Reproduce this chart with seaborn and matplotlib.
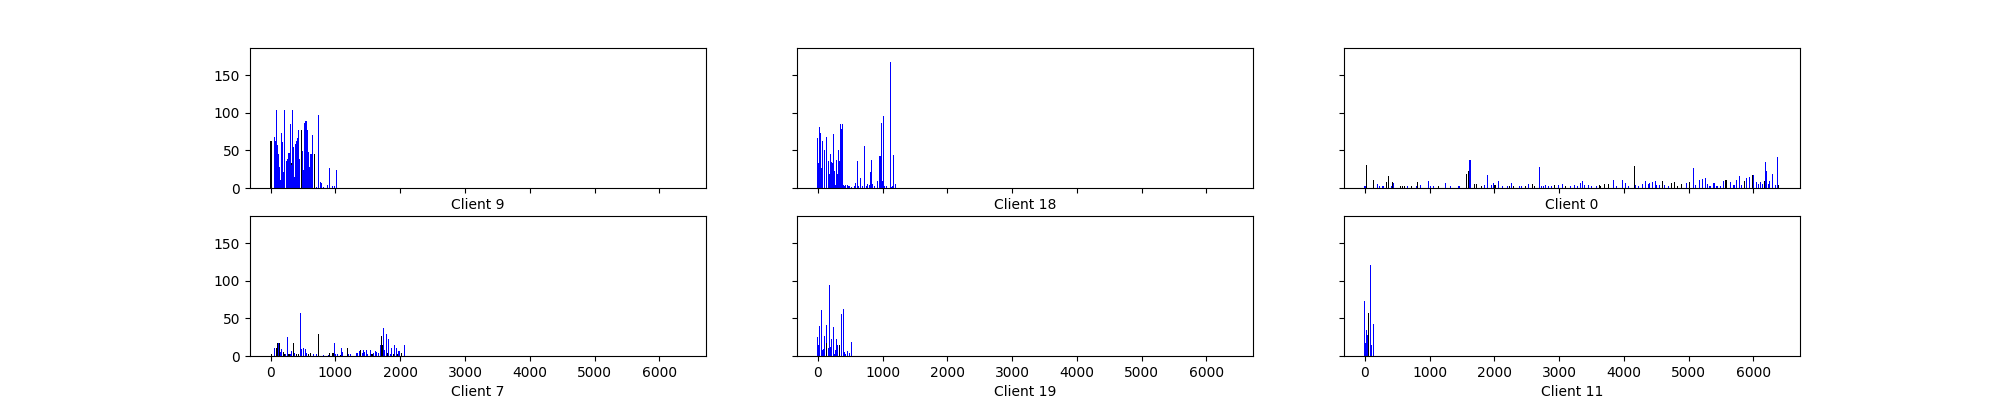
import numpy as np
import pandas as pd
import matplotlib
matplotlib.use("Agg")
import matplotlib.pyplot as plt
import seaborn as sns

clients = ["Client 9", "Client 18", "Client 0", "Client 7", "Client 19", "Client 11"]

# Client 9
c9_x = [0, 19, 51, 77, 96, 109, 122, 141, 154, 173, 186, 199, 218, 237, 256, 276, 288, 301,
        314, 327, 340, 353, 365, 378, 397, 410, 423, 449, 468, 487, 500, 519, 532, 545, 558,
        570, 583, 596, 609, 622, 647, 679, 712, 744, 763, 782, 820, 878, 904, 949, 987, 1019]
c9_h = [63, 63, 68, 62, 103, 57, 45, 28, 11, 73, 61, 21, 104, 36, 39, 46, 47, 85,
        33, 31, 104, 55, 15, 58, 62, 66, 77, 39, 77, 49, 24, 86, 88, 89, 24,
        77, 48, 28, 28, 45, 70, 45, 1, 97, 8, 6, 1, 4, 27, 3, 2, 24]
c9_c = ["k", "k", "b", "b", "b", "b", "b", "b", "b", "b", "b", "b", "b", "b", "b", "b", "b", "b",
        "k", "b", "b", "b", "b", "b", "b", "b", "b", "b", "k", "b", "b", "b", "b", "b", "b",
        "b", "b", "b", "b", "b", "b", "k", "b", "b", "b", "b", "b", "b", "b", "b", "b", "b"]

# Client 18
c18_x = [0, 13, 32, 45, 65, 77, 97, 110, 129, 142, 161, 174, 194, 206, 226, 239, 258, 271,
         290, 303, 323, 335, 355, 368, 387, 400, 413, 432, 452, 471, 497, 522, 561, 581, 613,
         632, 664, 697, 722, 748, 768, 800, 819, 832, 851, 877, 929, 948, 968, 980, 993, 1019,
         1032, 1064, 1122, 1142, 1161, 1174, 1193]
c18_h = [66, 33, 81, 73, 27, 63, 51, 13, 18, 68, 36, 19, 45, 34, 33, 72, 22, 4,
         37, 18, 50, 36, 85, 78, 85, 4, 3, 4, 4, 2, 2, 1, 2, 7, 36,
         2, 13, 2, 56, 2, 5, 4, 21, 37, 5, 2, 9, 43, 43, 86, 9, 95,
         2, 2, 167, 1, 2, 44, 5]
c18_c = ["b"] * len(c18_x)

# Client 0
c0_x = [0, 10, 20, 31, 139, 201, 227, 268, 294, 340, 371, 407, 433, 443, 546, 577, 619, 665,
        716, 794, 820, 856, 990, 1010, 1067, 1144, 1253, 1320, 1454, 1577, 1598, 1613, 1624,
        1634, 1686, 1717, 1799, 1846, 1887, 1949, 1980, 2010, 2057, 2119, 2201, 2227, 2258,
        2294, 2381, 2418, 2474, 2526, 2588, 2624, 2691, 2727, 2753, 2789, 2840, 2887, 2923,
        2995, 3046, 3093, 3175, 3232, 3279, 3330, 3356, 3397, 3449, 3500, 3578, 3619, 3645,
        3696, 3758, 3835, 3892, 3975, 4026, 4078, 4160, 4176, 4232, 4289, 4330, 4376, 4402,
        4438, 4485, 4505, 4547, 4593, 4634, 4686, 4737, 4779, 4830, 4887, 4969, 5021, 5072,
        5103, 5165, 5211, 5258, 5294, 5330, 5392, 5438, 5485, 5536, 5577, 5645, 5701, 5737,
        5784, 5820, 5856, 5892, 5938, 5985, 6005, 6047, 6078, 6114, 6145, 6171, 6186, 6202,
        6228, 6253, 6294, 6341, 6372, 6387]
c0_h = [2, 2, 2, 31, 11, 5, 2, 2, 2, 8, 16, 2, 8, 7, 2, 2, 2, 3,
        2, 2, 8, 4, 9, 2, 2, 2, 7, 3, 3, 19, 23, 23, 37,
        23, 5, 5, 3, 4, 17, 4, 7, 4, 9, 3, 3, 3, 7,
        2, 3, 3, 2, 5, 5, 3, 28, 3, 3, 4, 3, 3, 4,
        4, 5, 2, 2, 4, 3, 7, 9, 4, 4, 2, 3, 4, 3,
        5, 5, 11, 2, 11, 7, 3, 29, 4, 2, 5, 9, 5, 7,
        8, 9, 4, 4, 9, 4, 3, 7, 8, 3, 5, 7, 8, 27,
        4, 11, 12, 13, 5, 3, 7, 3, 2, 9, 11, 8, 4, 10,
        16, 4, 9, 13, 15, 17, 17, 8, 5, 8, 5, 9, 35, 23,
        5, 9, 19, 4, 41, 4]
c0_c = ["b", "b", "b", "k", "k", "b", "b", "b", "b", "k", "k", "b", "k", "b", "k", "k", "k", "b",
        "k", "b", "k", "b", "b", "b", "b", "k", "b", "b", "b", "k", "k", "b", "b",
        "b", "k", "k", "k", "b", "b", "b", "b", "k", "b", "b", "b", "k", "b",
        "k", "b", "b", "k", "b", "k", "k", "b", "b", "b", "b", "b", "b", "k",
        "b", "b", "k", "b", "b", "b", "b", "b", "b", "b", "b", "b", "k", "k",
        "k", "k", "b", "b", "b", "b", "b", "k", "b", "b", "b", "b", "b", "b",
        "b", "b", "b", "b", "k", "b", "b", "k", "k", "k", "k", "b", "k", "b",
        "b", "b", "b", "b", "b", "b", "b", "b", "b", "b", "k", "b", "b", "b",
        "b", "b", "k", "b", "b", "k", "b", "b", "b", "b", "b", "k", "b", "b",
        "b", "b", "b", "b", "b", "k"]

# Client 7
c7_x = [19, 51, 83, 96, 109, 122, 141, 154, 173, 192, 212, 231, 256, 282, 308, 327, 346, 359,
        372, 397, 423, 455, 481, 506, 532, 545, 577, 615, 654, 705, 731, 808, 821, 885, 904,
        962, 981, 1000, 1038, 1077, 1090, 1109, 1179, 1205, 1231, 1320, 1346, 1372, 1391,
        1423, 1436, 1455, 1474, 1500, 1538, 1564, 1590, 1615, 1635, 1660, 1692, 1705, 1724,
        1737, 1756, 1782, 1801, 1820, 1846, 1872, 1891, 1910, 1936, 1962, 1981, 2013, 2064]
c7_h = [2, 10, 5, 11, 17, 17, 17, 5, 9, 5, 3, 3, 25, 2, 2, 6, 17, 6,
        4, 3, 2, 57, 9, 10, 9, 4, 2, 4, 2, 3, 29, 1, 1, 1, 4,
        4, 17, 3, 2, 1, 10, 5, 11, 2, 2, 4, 4, 6, 8,
        4, 8, 5, 8, 2, 8, 3, 4, 7, 5, 4, 15, 27, 14,
        37, 8, 29, 4, 23, 2, 10, 2, 15, 10, 2, 7, 4, 14]
c7_c = ["k", "b", "k", "k", "k", "b", "k", "b", "b", "k", "k", "b", "b", "k", "b", "b", "k", "k",
        "b", "k", "k", "b", "b", "b", "b", "b", "k", "k", "b", "b", "k", "k", "b", "b", "k",
        "k", "b", "b", "b", "k", "b", "b", "k", "b", "b", "b", "b", "b", "k",
        "b", "b", "b", "b", "b", "b", "k", "b", "b", "b", "b", "b", "k", "k",
        "b", "b", "b", "k", "b", "b", "b", "k", "b", "b", "k", "b", "k", "b"]

# Client 19
c19_x = [0, 19, 32, 52, 71, 90, 110, 129, 142, 161, 174, 194, 206, 239, 258, 277, 290, 310,
         329, 342, 361, 393, 413, 432, 458, 484, 522]
c19_h = [25, 15, 40, 61, 8, 9, 26, 41, 17, 11, 94, 12, 22, 38, 2, 8, 23, 15,
         15, 15, 56, 62, 5, 3, 6, 4, 18]
c19_c = ["b", "b", "b", "b", "b", "b", "b", "b", "k", "b", "b", "b", "b", "b", "b", "b", "b", "b",
         "k", "b", "b", "b", "b", "b", "b", "b", "b"]

# Client 11
c11_x = [0, 10, 21, 31, 41, 52, 62, 82, 103, 139]
c11_h = [73, 17, 17, 35, 28, 28, 57, 121, 14, 42]
c11_c = ["b", "b", "b", "b", "b", "k", "k", "b", "b", "b"]

panels = [
    (c9_x, c9_h, c9_c),
    (c18_x, c18_h, c18_c),
    (c0_x, c0_h, c0_c),
    (c7_x, c7_h, c7_c),
    (c19_x, c19_h, c19_c),
    (c11_x, c11_h, c11_c),
]
palette = {"b": "blue", "k": "black"}

fig, axes = plt.subplots(2, 3, figsize=(20, 4), sharex=True, sharey=True)
BAR_W = 16.0
for ax, name, (xs, hs, cs) in zip(axes.flat, clients, panels):
    df = pd.DataFrame({"x": xs, "h": hs, "c": cs})
    gap = float(np.min(np.diff(np.unique(df["x"]))))
    sns.barplot(data=df, x="x", y="h", hue="c", palette=palette, native_scale=True,
                dodge=False, errorbar=None, saturation=1, width=BAR_W / gap,
                legend=False, linewidth=0, ax=ax)
    for p in ax.patches:
        p.set_antialiased(False)
    ax.set_xlabel(name)
    ax.xaxis.label.set_visible(True)
    ax.set_ylabel("")

axes[0, 0].set_xlim(-320, 6720)
axes[0, 0].set_ylim(0, 186)
axes[0, 0].set_xticks(range(0, 7000, 1000))
axes[0, 0].set_yticks([0, 50, 100, 150])
for ax in axes[0]:
    ax.tick_params(labelbottom=False)

fig.savefig("out.png", dpi=100)
